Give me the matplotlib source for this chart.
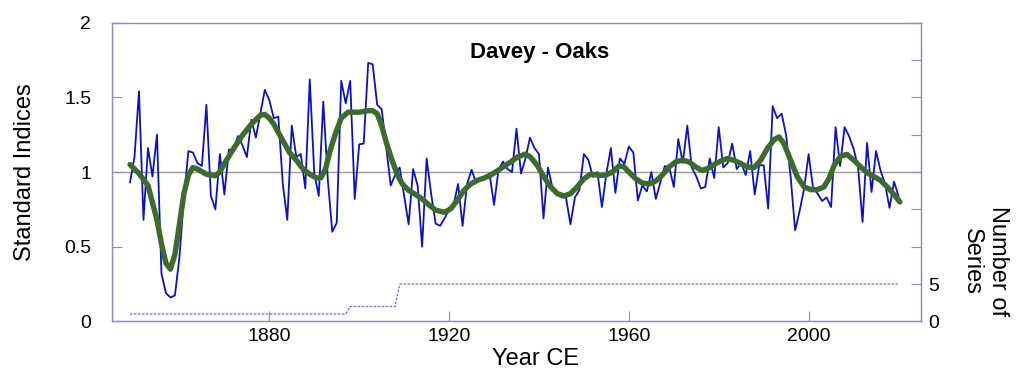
import matplotlib
matplotlib.use('Agg')
import matplotlib.pyplot as plt
import numpy as np

plt.rcParams['font.family'] = ['Liberation Sans', 'DejaVu Sans']

# ---- data ----
years = np.arange(1849, 2021)
index_values = [
    0.93, 1.10, 1.54, 0.68, 1.16, 0.97, 1.25, 0.32, 0.19, 0.16,   # 1849-1858
    0.175, 0.43, 0.83, 1.14, 1.13, 1.06, 1.04, 1.45, 0.84, 0.75,  # 1859-1868
    1.12, 0.85, 1.15, 1.14, 1.24, 1.18, 1.10, 1.35, 1.23, 1.39,   # 1869-1878
    1.55, 1.48, 1.36, 1.37, 0.92, 0.68, 1.31, 1.10, 1.12, 0.89,   # 1879-1888
    1.62, 0.99, 0.84, 1.47, 0.955, 0.60, 0.66, 1.61, 1.46, 1.61,  # 1889-1898
    0.82, 1.185, 1.19, 1.73, 1.72, 1.45, 1.42, 1.17, 0.91, 0.98,  # 1899-1908
    1.03, 0.84, 0.65, 1.02, 0.91, 0.50, 1.09, 0.855, 0.655, 0.64, # 1909-1918
    0.69, 0.75, 0.78, 0.92, 0.64, 0.92, 1.015, 0.93, 0.955, 0.96, # 1919-1928
    0.99, 0.78, 1.015, 1.07, 1.02, 1.00, 1.29, 0.99, 1.09, 1.23,  # 1929-1938
    1.16, 1.12, 0.69, 1.03, 0.895, 0.855, 0.83, 0.83, 0.65, 0.83, # 1939-1948
    0.88, 1.12, 1.08, 0.967, 1.00, 0.766, 0.99, 1.16, 0.86, 1.09, # 1949-1958
    1.055, 1.17, 1.13, 0.81, 0.91, 0.87, 1.00, 0.82, 0.93, 1.04,  # 1959-1968
    1.03, 0.90, 1.22, 1.06, 1.31, 1.03, 0.97, 0.89, 0.90, 1.09,   # 1969-1978
    0.96, 1.30, 1.03, 1.06, 1.19, 1.02, 1.06, 0.98, 1.14, 0.85,   # 1979-1988
    1.045, 1.045, 0.755, 1.44, 1.36, 1.39, 1.245, 0.967, 0.61, 0.74,  # 1989-1998
    0.89, 1.12, 0.89, 0.855, 0.806, 0.83, 0.766, 1.30, 1.04, 1.30,    # 1999-2008
    1.24, 1.156, 1.033, 0.666, 1.194, 0.866, 1.14, 1.01, 0.92, 0.76,  # 2009-2018
    0.935, 0.84,                                                       # 2019-2020
]

smooth_years = [
    1849, 1851, 1853, 1855, 1856, 1857, 1858, 1859, 1860, 1861, 1862, 1863,
    1864, 1866, 1868, 1869, 1870, 1872, 1874, 1876, 1878, 1879, 1880, 1881,
    1883, 1884.5, 1886, 1887.5, 1889, 1890.5, 1891.5, 1892.5, 1893.5, 1894.7,
    1896, 1897.5, 1900, 1902, 1903, 1904, 1905, 1906, 1907.3, 1908.5, 1909.6,
    1911, 1912.5, 1914, 1915.5, 1917, 1919, 1920.4, 1921.8, 1923.3, 1924.8,
    1926.3, 1927.8, 1929.2, 1930.7, 1932.2, 1933.7, 1935.2, 1937, 1938.1,
    1939.6, 1941.1, 1942.6, 1944.1, 1945.6, 1947, 1948.5, 1950, 1951.5,
    1953.4, 1954.8, 1956.3, 1957.8, 1958.9, 1960, 1961.5, 1963, 1964.5, 1966,
    1967.4, 1968.9, 1970.4, 1971.9, 1973.4, 1974.9, 1976.3, 1977.8, 1979.3,
    1980.8, 1981.9, 1983.4, 1984.9, 1986.4, 1987.9, 1989.3, 1990.8, 1992.3,
    1993.4, 1994.5, 1996, 1997.5, 1999, 2000.5, 2001.9, 2003.4, 2004.5,
    2005.7, 2007.1, 2008.5, 2010.1, 2011.6, 2013.1, 2014.5, 2016, 2017.5,
    2019, 2020.3,
]
smooth_values = [
    1.05, 0.99, 0.91, 0.68, 0.52, 0.39, 0.35, 0.45, 0.65, 0.855, 0.98, 1.03,
    1.02, 0.985, 0.975, 1.00, 1.055, 1.155, 1.245, 1.32, 1.38, 1.385, 1.36, 1.32,
    1.21, 1.13, 1.08, 1.02, 0.985, 0.96, 0.962, 1.02, 1.14, 1.255,
    1.36, 1.40, 1.40, 1.41, 1.41, 1.39, 1.31, 1.20, 1.08, 0.98, 0.92,
    0.877, 0.85, 0.82, 0.78, 0.745, 0.73, 0.755, 0.81, 0.877, 0.92,
    0.944, 0.96, 0.978, 1.007, 1.038, 1.067, 1.10, 1.12, 1.10,
    1.045, 0.967, 0.90, 0.855, 0.84, 0.855, 0.90, 0.955, 0.985,
    0.978, 0.978, 1.00, 1.04, 1.035, 1.00, 0.955, 0.926, 0.92, 0.94,
    0.978, 1.033, 1.067, 1.08, 1.067, 1.033, 1.01, 1.027, 1.056,
    1.078, 1.09, 1.078, 1.056, 1.033, 1.03, 1.078, 1.156, 1.216,
    1.235, 1.19, 1.078, 0.967, 0.90, 0.882, 0.882, 0.90, 0.955,
    1.045, 1.105, 1.118, 1.078, 1.033, 0.993, 0.97, 0.944, 0.90,
    0.85, 0.80,
]

series_years = [1849, 1897, 1898, 1908, 1909, 2020]
series_counts = [1, 1, 2, 2, 5, 5]

x_ticks = [1880, 1920, 1960, 2000]
y_ticks = [0, 0.5, 1, 1.5, 2]
y_tick_labels = ['0', '0.5', '1', '1.5', '2']
count_ticks = [0, 5, 10, 15, 20, 25, 30, 35, 40]
count_tick_labels = ['0', '5', '', '', '', '', '', '', '']

# ---- styling ----
spine_col = '#8a8ad4'
blue = '#0b12c4'
green = '#3e6b2c'

fig = plt.figure(figsize=(10.24, 3.81), dpi=100)
ax = fig.add_axes([0.1094, 0.1562, 0.79, 0.7847])
ax.set_xlim(1845, 2025)
ax.set_ylim(0, 2)

ax.axhline(1, color='#9a9a9a', lw=1.0, zorder=1)
ax.plot(years, index_values, color=blue, lw=1.3, zorder=3)
ax.plot(smooth_years, smooth_values, color=green, lw=3.9,
        solid_capstyle='round', solid_joinstyle='round', zorder=4)

ax.set_xticks(x_ticks)
ax.set_yticks(y_ticks)
ax.set_yticklabels(y_tick_labels)
ax.tick_params(axis='both', direction='in', length=7, width=0.8,
               color=spine_col, labelcolor='black', labelsize=14)
ax.tick_params(axis='y', pad=15)
ax.tick_params(axis='x', pad=5)
for s in ax.spines.values():
    s.set_color(spine_col)
    s.set_linewidth(0.9)

ax.set_ylabel('Standard Indices', fontsize=17, labelpad=20)
ax.set_xlabel('Year CE', fontsize=17, labelpad=2, x=0.524)
ax.text(0.529, 0.90, 'Davey - Oaks', transform=ax.transAxes, ha='center',
        va='center', fontsize=16, fontweight='bold')

ax2 = ax.twinx()
ax2.set_ylim(0, 40)
ax2.plot(series_years, series_counts, color='#6a6adc', lw=0.9,
         ls=(0, (2.0, 1.2)), zorder=2)
ax2.set_yticks(count_ticks)
ax2.set_yticklabels(count_tick_labels)
ax2.tick_params(axis='y', direction='in', length=7, width=0.8,
                color=spine_col, labelcolor='black', labelsize=14, pad=5)
for s in ax2.spines.values():
    s.set_color(spine_col)
    s.set_linewidth(0.9)

fig.text(985 / 1024, 1 - 261 / 381, 'Number of\nSeries', fontsize=17,
         rotation=270, ha='center', va='center', multialignment='center',
         linespacing=1.2)

fig.savefig('out.png', dpi=100)
